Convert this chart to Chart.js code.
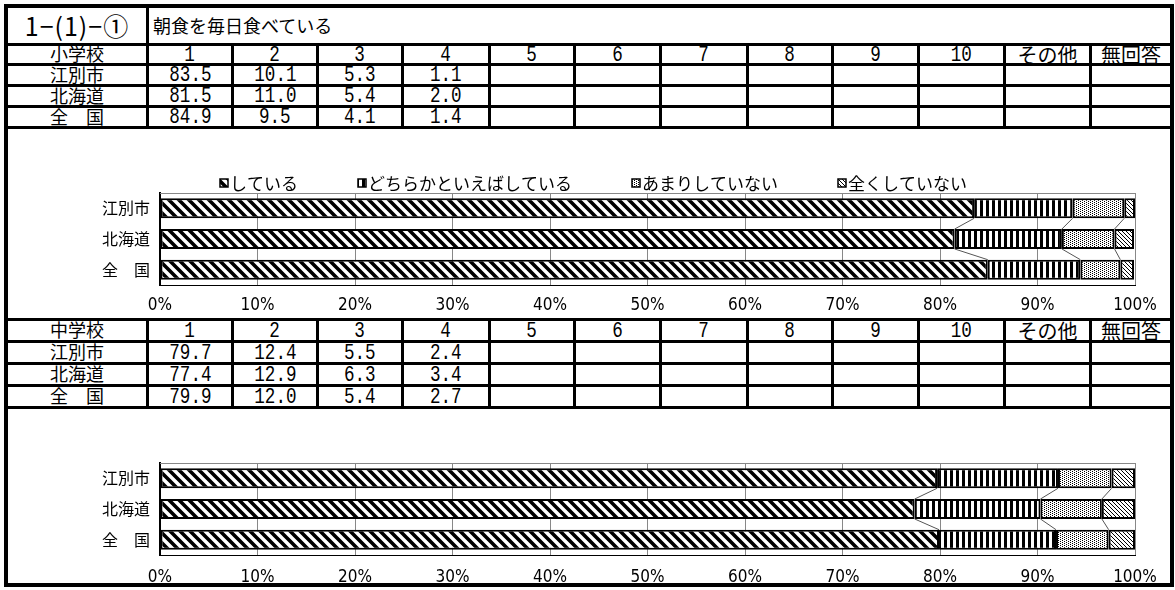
<!DOCTYPE html>
<html lang="ja">
<head>
<meta charset="utf-8">
<script src="https://cdn.jsdelivr.net/npm/chart.js@4.4.0/dist/chart.umd.min.js"></script>
<style>
  html, body { margin: 0; padding: 0; background: #fff; }
  body { width: 1175px; height: 590px; position: relative; overflow: hidden; font-family: "Noto Sans CJK JP", sans-serif; color: #000; }
  #frame { position: absolute; left: 4px; top: 4px; width: 1170px; height: 583px; border: 4px solid #000; box-sizing: border-box; }
  .grid { display: grid; gap: 3px; background: #000;
          grid-template-columns: 138px 82px 82px 82px 84px 82px 83px 84px 82px 83px 83px 83px 78px; }
  .grid div { background: #fff; display: flex; align-items: center; justify-content: center;
              font-size: 18px; line-height: 17px; overflow: hidden; white-space: nowrap; padding-bottom: 2px; box-sizing: border-box; }
  #t1 { grid-template-rows: 35px 17px 18px 18px 18px; }
  #t2 { grid-template-rows: 19px 19px 19px 19px; }
  .grid div.code { font-size: 25px; line-height: 25px; padding-bottom: 0; letter-spacing: 1px; }
  .grid div.title { justify-content: flex-start; padding-left: 4px; padding-bottom: 0; font-size: 18px; }
  .grid div.wide { font-size: 20px; padding-bottom: 1px; }
  .grid div.n { padding-bottom: 0; padding-top: 1px; }
  .n span { display: inline-block; font-family: "Liberation Mono", monospace; font-size: 22px; line-height: 17px; transform: scaleX(0.8); }
  .chartbox { border-top: 3px solid #000; position: relative; }
  #box1 { height: 189px; border-bottom: 3px solid #000; }
  #box2 { height: 174px; }
</style>
</head>
<body>
<div id="frame">
  <div class="grid" id="t1"></div>
  <div class="chartbox" id="box1"><canvas id="chart1"></canvas></div>
  <div class="grid" id="t2"></div>
  <div class="chartbox" id="box2"><canvas id="chart2"></canvas></div>
</div>
<script>
const questionCode = '1−(1)−①';
const questionTitle = '朝食を毎日食べている';
const regions = ['江別市', '北海道', '全　国'];
const answerLabels = ['している', 'どちらかといえばしている', 'あまりしていない', '全くしていない'];
const columnHeads = ['1', '2', '3', '4', '5', '6', '7', '8', '9', '10', 'その他', '無回答'];

// 小学校
const elemEbetsu = [83.5, 10.1, 5.3, 1.1];
const elemHokkaido = [81.5, 11.0, 5.4, 2.0];
const elemNational = [84.9, 9.5, 4.1, 1.4];
// 中学校
const juniorEbetsu = [79.7, 12.4, 5.5, 2.4];
const juniorHokkaido = [77.4, 12.9, 6.3, 3.4];
const juniorNational = [79.9, 12.0, 5.4, 2.7];

const jpFont = '"Noto Sans CJK JP", sans-serif';
const tickFont = '"Liberation Sans Narrow", "DejaVu Sans Condensed", sans-serif';

function cell(parent, text, cls) {
    const d = document.createElement('div');
    if (cls) d.className = cls;
    if (cls === 'n') {
        const s = document.createElement('span');
        s.textContent = text;
        d.appendChild(s);
    } else {
        d.textContent = text;
    }
    parent.appendChild(d);
    return d;
}

function buildTable(el, school, rows, withTitle) {
    if (withTitle) {
        cell(el, questionCode, 'code');
        const t = cell(el, questionTitle, 'title');
        t.style.gridColumn = 'span 12';
    }
    cell(el, school);
    columnHeads.forEach(h => cell(el, h, /^\d+$/.test(h) ? 'n' : 'wide'));
    rows.forEach((r, i) => {
        cell(el, regions[i]);
        columnHeads.forEach((h, k) => cell(el, k < r.length ? r[k].toFixed(1) : '', 'n'));
    });
}

buildTable(document.getElementById('t1'), '小学校', [elemEbetsu, elemHokkaido, elemNational], true);
buildTable(document.getElementById('t2'), '中学校', [juniorEbetsu, juniorHokkaido, juniorNational], false);

function makePattern(kind) {
    const c = document.createElement('canvas');
    const x = c.getContext('2d');
    if (kind === 1) {
        c.width = 6; c.height = 6;
        x.fillStyle = '#fff'; x.fillRect(0, 0, 6, 6);
        x.fillStyle = '#000'; x.fillRect(0, 0, 3, 6);
    } else if (kind === 2) {
        c.width = 4; c.height = 2;
        x.fillStyle = '#fff'; x.fillRect(0, 0, 4, 2);
        x.fillStyle = '#000'; x.fillRect(0, 0, 1, 1); x.fillRect(2, 1, 1, 1);
    } else {
        const s = kind === 0 ? 10 : 4;
        c.width = s; c.height = s;
        x.fillStyle = '#fff'; x.fillRect(0, 0, s, s);
        x.strokeStyle = '#000';
        x.lineWidth = kind === 0 ? 3.6 : 1;
        x.beginPath();
        for (const o of [-s, 0, s]) { x.moveTo(o - s, -s); x.lineTo(o + 2 * s, 2 * s); }
        x.stroke();
    }
    return x.createPattern(c, 'repeat');
}

const patterns = [0, 1, 2, 3].map(makePattern);

const plotFrame = {
    id: 'plotFrame',
    beforeDatasetsDraw(chart) {
        const { ctx, chartArea: a } = chart;
        ctx.save();
        ctx.strokeStyle = '#888';
        ctx.lineWidth = 1;
        ctx.beginPath();
        ctx.moveTo(a.left, a.top + 0.5); ctx.lineTo(a.right + 0.5, a.top + 0.5);
        ctx.lineTo(a.right + 0.5, a.bottom);
        ctx.stroke();
        ctx.restore();
    }
};

// Excel style series lines between the stacked bars
const seriesLines = {
    id: 'seriesLines',
    afterDatasetsDraw(chart) {
        const ctx = chart.ctx;
        const n = chart.data.datasets.length;
        ctx.save();
        ctx.strokeStyle = '#555';
        ctx.lineWidth = 1;
        for (let d = 0; d < n - 1; d++) {
            const bars = chart.getDatasetMeta(d).data;
            for (let i = 0; i < bars.length - 1; i++) {
                const a = bars[i], b = bars[i + 1];
                ctx.beginPath();
                ctx.moveTo(a.x, a.y + a.height / 2);
                ctx.lineTo(b.x, b.y - b.height / 2);
                ctx.stroke();
            }
        }
        ctx.restore();
    }
};

const patternLegend = {
    id: 'patternLegend',
    afterDraw(chart, args, opts) {
        if (!opts.show) return;
        const ctx = chart.ctx;
        const box = 8, gap = 2, spacing = 60;
        ctx.save();
        ctx.font = '17px ' + jpFont;
        ctx.textBaseline = 'middle';
        const items = chart.data.datasets.map(ds => ({
            text: ds.label,
            fill: ds.backgroundColor,
            w: box + gap + ctx.measureText(ds.label).width
        }));
        const total = items.reduce((s, it) => s + it.w, 0) + spacing * (items.length - 1);
        let x = Math.round((chart.width - total) / 2) + 4;
        const y = opts.y;
        items.forEach(it => {
            ctx.fillStyle = it.fill;
            ctx.fillRect(x, y - box / 2, box, box);
            ctx.strokeStyle = '#000';
            ctx.lineWidth = 1.5;
            ctx.strokeRect(x, y - box / 2, box, box);
            ctx.fillStyle = '#000';
            ctx.fillText(it.text, x + box + gap, y + 1);
            x += it.w + spacing;
        });
        ctx.restore();
    }
};

function buildChart(canvasId, rows, cfg) {
    const datasets = answerLabels.map((label, k) => ({
        label,
        data: rows.map(r => r[k]),
        backgroundColor: patterns[k],
        borderColor: '#000',
        borderWidth: 2,
        borderSkipped: false,
        barPercentage: 0.65,
        categoryPercentage: 1
    }));
    return new Chart(document.getElementById(canvasId), {
        type: 'bar',
        data: { labels: regions, datasets },
        options: {
            indexAxis: 'y',
            responsive: true,
            maintainAspectRatio: false,
            animation: false,
            events: [],
            layout: { padding: { top: cfg.plotTop, right: 35, left: 0, bottom: 0 } },
            plugins: {
                legend: { display: false },
                tooltip: { enabled: false },
                patternLegend: { show: cfg.legend, y: cfg.legendY }
            },
            scales: {
                x: {
                    stacked: true,
                    min: 0,
                    max: 100,
                    ticks: {
                        stepSize: 10,
                        callback: v => v + '%',
                        padding: cfg.tickPad,
                        maxRotation: 0,
                        color: '#000',
                        font: { family: tickFont, size: 17 }
                    },
                    grid: { color: '#888', drawTicks: false },
                    border: { color: '#000', width: 1 },
                    afterFit: s => { s.height = cfg.axisHeight; }
                },
                y: {
                    stacked: true,
                    ticks: { color: '#000', padding: 2, font: { family: jpFont, size: 16 } },
                    grid: { display: false },
                    border: { color: '#000', width: 2 },
                    afterFit: s => { s.width = 152; }
                }
            }
        },
        plugins: [plotFrame, seriesLines, patternLegend]
    });
}

buildChart('chart1', [elemEbetsu, elemHokkaido, elemNational],
    { plotTop: 64, axisHeight: 33, tickPad: 10, legend: true, legendY: 54 });
buildChart('chart2', [juniorEbetsu, juniorHokkaido, juniorNational],
    { plotTop: 54, axisHeight: 28, tickPad: 12, legend: false, legendY: 0 });
</script>
</body>
</html>
